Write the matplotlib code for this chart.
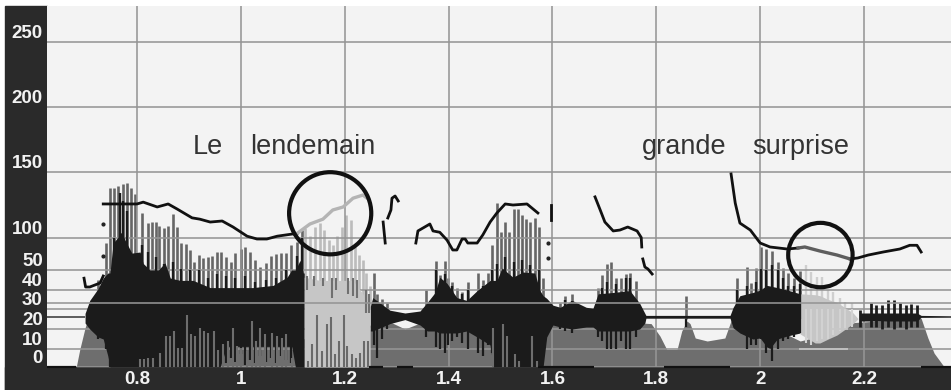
import numpy as np
import matplotlib
matplotlib.use("Agg")
import matplotlib.pyplot as plt
from matplotlib.patches import Rectangle

plt.rcParams["font.family"] = ["Liberation Sans", "DejaVu Sans"]

# axis labels and the non linear vertical scale of the software
x_ticks = [0.8, 1.0, 1.2, 1.4, 1.6, 1.8, 2.0, 2.2]
x_labels = ["0.8", "1", "1.2", "1.4", "1.6", "1.8", "2", "2.2"]
y_ticks = [0, 10, 20, 30, 40, 50, 100, 150, 200, 250]
scale_v = [0, 10, 20, 30, 40, 50, 100, 150, 200, 250, 278]
scale_pos = [0, 18, 38, 58, 77, 97, 129.5, 195, 260, 325, 361]
extra_lines = [33]

# intensity curve (grey area)
gray_t = [.683, .690, .700, .709, .744, .960, 1.100, 1.250, 1.290, 1.316, 1.345, 1.770, 1.790, 1.807, 1.820, 1.840,
          1.849, 1.859, 1.865, 1.875, 1.898, 1.932, 1.942, 1.952, 2.077, 2.115, 2.140, 2.179, 2.310, 2.323, 2.335, 2.352, 2.354]
gray_v = [0, 10, 20.6, 28, 28, 14, 14, 22, 23.2, 20, 23, 23, 22.7, 16.5, 9.8, 9.8,
          19, 24, 22.7, 15.5, 14, 15.5, 22.7, 30, 14, 16.5, 20.6, 23.2, 25.3, 15.5, 7.7, 1, 0]

# waveform envelope, dark parts
env1_t = [.700, .709, .725, .735, .744, .748, .754, .763, .767, .771, .777, .790, .806, .812, .825, .841, .854, .864,
          .883, .908, .941, .960, .973, 1.023, 1.062, 1.089, 1.098, 1.105, 1.114, 1.120, 1.122]
env1_hi = [27.8, 34.5, 40.7, 46, 48.5, 48.5, 91.5, 100, 103, 104, 96, 76, 77.7, 60, 50, 50, 61, 46,
           44.8, 44.8, 41.2, 41.2, 41.2, 41.2, 42.3, 46.4, 50, 50, 65, 48.5, 48.5]
env1_lo = [23, 20, 16, 15, 6, 0, 0, 0, 0, 0, 0, 0, 0, 0, 0, 0, 0, 0,
           0, 0, 0, 0, 11.3, 11.3, 11.3, 11.3, 11.3, 0, 0, 0, 0]
env2_t = [1.249, 1.254, 1.287, 1.316, 1.345, 1.359, 1.374, 1.383, 1.397, 1.416, 1.435, 1.455, 1.480, 1.486, 1.493, 1.503,
          1.524, 1.543, 1.566, 1.576, 1.582, 1.589, 1.601, 1.615, 1.638, 1.665, 1.678, 1.688, 1.717, 1.749, 1.768, 1.778,
          1.780, 1.855, 1.865, 1.942, 1.948, 1.961, 1.986, 2.000, 2.013, 2.019, 2.033, 2.052, 2.077]
env2_hi = [31, 36, 29.4, 28, 29, 33.5, 38.7, 46.4, 43.3, 36, 34.5, 39.7, 44.8, 44.8, 44.8, 53,
           46.4, 49, 48.5, 39.7, 37, 35.6, 32, 30.9, 34.5, 30.9, 30.4, 38, 38.7, 39.7, 33, 27.8,
           26.8, 26.8, 26.8, 26.8, 30.9, 37, 38.7, 40, 42.3, 42, 41.2, 40, 38]
env2_lo = [19, 19, 22.7, 24.7, 22, 19, 19, 18, 18, 18, 19, 16, 12, 0, 0, 0,
           0, 0, 0, 0, 0, 16, 22, 21, 20, 21, 21, 19, 19, 19, 20, 23,
           25.4, 25.4, 25.4, 25.4, 20.6, 18, 15, 15.5, 11, 10.3, 15, 16.5, 18]
env3_t = [2.192, 2.302, 2.310, 2.3675]
env3_hi = [28, 28, 26.8, 26.6]
env3_lo = [24, 24, 25.8, 25.9]

# highlighted syllables (light areas)
light1_t = [1.122, 1.152, 1.216, 1.235, 1.249]
light1_hi = [46.4, 44.8, 44.8, 38, 30.9]
light2_t = [2.077, 2.106, 2.115, 2.131, 2.148, 2.179, 2.188]
light2_hi = [38, 37.5, 37, 35, 33.5, 28, 25.3]
light2_lo = [17.5, 13, 13, 15, 17, 22.7, 25]

# glottal pulses of the waveform: top end and low end
pulse_t = [.725, .740, .748, .756, .763, .773, .781, .788, .796, .810, .821, .829, .837, .842, .852, .860, .869, .877,
           .885, .894, .902, .910, .919, .927, .937, .944, .954, .962, .971, .981, .989, 1.000, 1.008, 1.018, 1.027,
           1.037, 1.048, 1.058, 1.068, 1.077, 1.087, 1.097, 1.108, 1.118,
           1.256, 1.262, 1.272, 1.281,
           1.357, 1.376, 1.383, 1.393, 1.399, 1.407, 1.416, 1.426, 1.437, 1.457, 1.466, 1.476, 1.484, 1.493, 1.501,
           1.509, 1.516, 1.526, 1.534, 1.541, 1.549, 1.557, 1.566, 1.574, 1.582,
           1.615, 1.624, 1.638, 1.688, 1.695, 1.705, 1.713, 1.722, 1.732, 1.742, 1.749, 1.761, 1.857,
           1.955, 1.975, 1.982, 1.992, 2.002, 2.011, 2.023, 2.034, 2.044, 2.054, 2.065, 2.077]
pulse_top = [44.8, 91.5, 137.5, 138, 139, 141, 141.5, 138, 133, 119, 111, 111.5, 111.5, 108.5, 107, 109, 118, 107.7,
             91.5, 89.4, 80.8, 62, 73, 68, 70, 71, 77.7, 77.7, 70, 62, 76, 82, 86, 77.7, 65,
             54.6, 61, 71, 74, 76, 76, 88, 93, 105.7,
             48.5, 38, 35.5, 33,
             40, 64, 47.5, 64, 46, 44, 41, 39, 44, 48.5, 45, 48.5, 88, 126, 104,
             111.5, 104, 121.5, 121.5, 117, 114, 111.5, 114.6, 107.7, 46,
             33, 37, 38, 41, 47.5, 59, 62, 46, 46, 48, 48.5, 44.5, 37,
             46, 54.6, 43.3, 53, 85, 83, 78.5, 62, 53, 48.5, 46, 49.5]
pulse_low = [15, 10, 0, 0, 0, 0, 0, 0, 0, 0, 0, 0, 0, 0, 0, 0, 0, 0,
             0, 0, 0, 0, 0, 0, 0, 0, 0, 6, 2, 5, 3, 7, 1, 4, 2,
             6, 3, 5, 2, 6, 4, 2, 1, 0,
             12, 5, 15, 20,
             16, 11, 10, 8, 12, 14, 16, 13, 10, 8, 6, 12, 8, 0, 0,
             0, 0, 0, 0, 0, 0, 0, 0, 0, 14,
             20, 19, 18, 16, 14, 10, 10, 10, 14, 10, 10, 16, 21,
             20, 10, 12, 12, 15, 8, 3.6, 10, 14, 15, 16, 18]

# dark inner part of the stronger pulses, gives the ragged top of the black mass
core_t = [.756, .767, .773, .781, .810, .821, .837, .852, .869, .885, .902, .919, .937, .954, .971, .989, 1.008, 1.027,
          1.048, 1.068, 1.087, 1.108, 1.118,
          1.376, 1.393, 1.407, 1.426, 1.437, 1.466, 1.484, 1.493, 1.509, 1.526, 1.541, 1.557, 1.574,
          1.624, 1.638, 1.695, 1.705, 1.722, 1.742, 1.749,
          1.955, 1.975, 1.992, 2.002, 2.011, 2.023, 2.034, 2.044, 2.054, 2.065, 2.077]
core_top = [100, 134, 128, 120, 88, 78, 70, 60, 62, 52, 50, 50, 46, 48, 47, 46, 47, 44,
            45, 46, 50, 72, 100,
            50, 48, 42, 38, 40, 42, 50, 60, 70, 62, 66, 58, 50,
            35, 34, 41, 44, 43, 46, 46,
            40, 42, 44, 52, 50, 58, 50, 46, 42, 42, 43]

# grey stripes seen through the black part of the waveform
stripe_t = [.806, .813, .821, .831, .844, .856, .864, .871, .879, .887, .896, .904, .912, .921, .929, .937, .948, .956,
            .966, .975, .985, .993, 1.000, 1.012, 1.021, 1.029, 1.037, 1.046, 1.060, 1.070, 1.079, 1.087, 1.098,
            1.486, 1.505, 1.513, 1.528, 1.536, 1.561, 1.570]
stripe_top = [4.6, 4.6, 5, 5, 7.7, 16.5, 16.5, 19, 10.3, 10.3, 26.8, 17.5, 16.5, 20.6, 19, 18, 19, 9.5,
              12.4, 14, 20.6, 11.3, 10.3, 8.8, 24.2, 14, 20.6, 17.5, 18, 16.5, 15.5, 17.5, 5.2,
              20.6, 22.7, 16.5, 7.2, 3.6, 16.5, 3.6]

# pulses inside the light syllables
light1_pulse_t = [1.124, 1.133, 1.143, 1.152, 1.160, 1.170, 1.177, 1.185, 1.195, 1.202, 1.212, 1.220, 1.228, 1.235, 1.241, 1.249]
light1_pulse_top = [107, 101.5, 107.7, 111, 105.7, 96, 88, 101.5, 107.7, 117, 113.4, 85, 73, 65, 48.5, 42]
bar_t = [1.129, 1.137, 1.147, 1.156, 1.166, 1.174, 1.181, 1.189, 1.199, 1.204, 1.214, 1.222, 1.229, 1.237, 1.245]
bar_top = [3.6, 12.4, 26.8, 8.8, 22.7, 25.8, 7.2, 14, 26.8, 11.3, 7.2, 5.2, 7.7, 14, 14]
tick_t = [1.127, 1.141, 1.158, 1.175, 1.183, 1.206, 1.216, 1.224, 1.241, 1.247]
tick_hi = [47, 47, 46, 46, 46, 46, 46, 45, 40, 38]
tick_lo = [40, 42, 42, 36, 40, 38, 37, 36, 28, 28]
light2_pulse_t = [2.088, 2.098, 2.109, 2.119, 2.131, 2.140, 2.154, 2.163, 2.177]
light2_pulse_top = [57.5, 49, 46.4, 46.4, 40, 39, 36, 33.5, 33]
light2_pulse_low = [13, 12, 14, 15, 15, 17, 19, 20, 21]
teeth_t = [2.192, 2.213, 2.223, 2.234, 2.246, 2.258, 2.269, 2.281, 2.291, 2.302]
teeth_top = [29.4, 33, 32, 32, 34.5, 34.5, 33, 32, 32.5, 32]
teeth_low = [21, 21, 21, 20, 21, 20, 21, 20, 21, 21]

# pitch track, one list per voiced stretch
f0_a_t = [.698, .701, .709, .729, .735]
f0_a = [45.9, 41.5, 41.5, 43.5, 47]
f0_b_t = [.735, .800, .812, .839, .860, .877, .906, .921, .941, .964, .985, 1.012, 1.031, 1.050, 1.070, 1.100, 1.108]
f0_b = [125.6, 125.6, 127, 123.3, 125.6, 121.8, 115, 114, 111.8, 112.6, 108, 101, 97.7, 97.7, 101, 102.7, 103]
f0_c_t = [1.108, 1.133, 1.158, 1.177, 1.197, 1.216, 1.235, 1.243]
f0_c = [103, 110.3, 114, 121, 123.3, 130, 132.4, 130]
f0_d_t = [1.274, 1.278]
f0_d = [111.8, 91.5]
f0_e_t = [1.283, 1.289, 1.291, 1.297, 1.303]
f0_e = [114.9, 121, 130, 131.7, 127.9]
f0_f_t = [1.337, 1.341, 1.364, 1.370, 1.383, 1.397, 1.408, 1.416, 1.426, 1.432, 1.437, 1.455, 1.466, 1.480, 1.493, 1.509, 1.524, 1.551, 1.572]
f0_f = [91.5, 105, 110.3, 105, 104, 96, 80.8, 80.8, 97.7, 97.7, 91.5, 91.5, 102, 111.8, 118.7, 125.6, 124.8, 125.6, 118.7]
f0_g_t = [1.597, 1.597]
f0_g = [124.8, 113.4]
f0_h_t = [1.682, 1.692, 1.701, 1.717, 1.730, 1.745, 1.763, 1.771, 1.772]
f0_h = [131, 121, 111.8, 105, 105.7, 108, 105, 100, 85.4]
f0_i_t = [1.774, 1.778, 1.784, 1.792]
f0_i = [67, 54.6, 51.5, 48]
f0_j_t = [1.944, 1.952, 1.961, 1.981, 2.000, 2.019, 2.052, 2.073]
f0_j = [148.5, 126.3, 111, 105.7, 91.5, 85.4, 82.3, 83.8]
f0_k_t = [2.073, 2.086, 2.115, 2.148, 2.173]
f0_k = [83.8, 85.4, 79.2, 73, 67]
f0_l_t = [2.173, 2.188, 2.208, 2.237, 2.269, 2.288, 2.302, 2.310]
f0_l = [67, 68.5, 73, 77.7, 82.3, 88, 88, 77.7]
dots_t = [.735, .735, 1.591, 1.591]
dots_v = [110, 72, 91.5, 69]

# silence parts drawn on the base line
base_start = [.6267, 1.247, 1.300, 1.572, 1.815, 2.310]
base_end = [.683, 1.274, 1.332, 1.680, 1.942, 2.3675]

# circled syllables
circle_t = [1.172, 2.116]
circle_v = [118.5, 73]
circle_size = [3500, 2150]

words = ["Le", "lendemain", "grande", "surprise"]
words_t = [.908, 1.018, 1.773, 1.985]
words_v = [164, 164, 164, 164]


def forward(v):
    return np.interp(v, scale_v, scale_pos)


def inverse(p):
    return np.interp(p, scale_pos, scale_v)


BLACK = "#1b1b1b"
GRAY = "#6e6e6e"
LIGHT = "#c6c6c6"
GRID = "#959595"
PANEL = "#2a2a2a"

fig = plt.figure(figsize=(9.51, 3.9), dpi=100, facecolor="white")
fig.add_artist(Rectangle((5 / 951, 0), 42 / 951, 384 / 390, transform=fig.transFigure, color=PANEL, zorder=-1))
fig.add_artist(Rectangle((5 / 951, 0), 946 / 951, 23 / 390, transform=fig.transFigure, color=PANEL, zorder=-1))

ax = fig.add_axes([47 / 951, 23 / 390, 904 / 951, 361 / 390], facecolor="#f3f3f3")
ax.set_yscale("function", functions=(forward, inverse))
ax.set_xlim(.6267, 2.3675)
ax.set_ylim(0, 278)
for s in ax.spines.values():
    s.set_visible(False)

ax.fill_between(gray_t, 0, gray_v, color=GRAY, lw=0, zorder=1)

# pulses
ax.vlines(pulse_t, 25, pulse_top, color="#666666", lw=1.9, zorder=2)
ax.vlines(light1_pulse_t, 30, light1_pulse_top, color="#bcbcbc", lw=1.9, zorder=2)
ax.vlines(light2_pulse_t, 30, light2_pulse_top, color="#cfcfcf", lw=1.7, zorder=2)

# waveform
ax.fill_between(env1_t, env1_lo, env1_hi, color=BLACK, lw=0, zorder=3)
ax.fill_between(env2_t, env2_lo, env2_hi, color=BLACK, lw=0, zorder=3)
ax.fill_between(env3_t, env3_lo, env3_hi, color=BLACK, lw=0, zorder=3)
ax.fill_between(light1_t, 0, light1_hi, color=LIGHT, lw=0, zorder=3)
ax.fill_between(light2_t, light2_lo, light2_hi, color=LIGHT, lw=0, zorder=3)
ax.vlines(pulse_t, pulse_low, 25, color=BLACK, lw=1.6, zorder=3)
ax.vlines(core_t, 25, core_top, color=BLACK, lw=1.7, zorder=3)
ax.vlines(stripe_t, 0, stripe_top, color=GRAY, lw=1.5, zorder=4)
ax.vlines(bar_t, 0, bar_top, color="#6a6a6a", lw=1.5, zorder=4)
ax.vlines(tick_t, tick_lo, tick_hi, color="#707070", lw=1.5, zorder=4)
ax.vlines(light2_pulse_t, light2_pulse_low, 30, color="#d2d2d2", lw=1.5, zorder=4)
ax.vlines(teeth_t, teeth_low, teeth_top, color=BLACK, lw=2.0, zorder=4)
ax.hlines(25.9, .6267, .700, color="#333333", lw=1.1, zorder=4)
ax.hlines([10, 20], [2.075, 2.135], [2.17, 2.17], color="#c8c8c8", lw=1.2, zorder=6)
ax.hlines([0] * len(base_start), base_start, base_end, color="#111111", lw=1.6, zorder=6, clip_on=False)

# grid
ax.set_xticks(x_ticks)
ax.set_xticklabels(x_labels)
ax.set_yticks(y_ticks)
ax.set_yticklabels([str(v) for v in y_ticks], va="bottom")
ax.grid(True, color=GRID, lw=1.15, zorder=5)
ax.set_axisbelow(False)
ax.hlines(extra_lines, .6267, 2.3675, color=GRID, lw=1.15, zorder=5)
ax.tick_params(length=0, colors="#f2f2f2", labelsize=13.5, pad=3)
for lab in ax.get_xticklabels() + ax.get_yticklabels():
    lab.set_fontweight("bold")

# pitch
for t, v in [(f0_a_t, f0_a), (f0_b_t, f0_b), (f0_d_t, f0_d), (f0_e_t, f0_e), (f0_f_t, f0_f),
             (f0_g_t, f0_g), (f0_h_t, f0_h), (f0_i_t, f0_i), (f0_j_t, f0_j), (f0_l_t, f0_l)]:
    ax.plot(t, v, color="#111111", lw=2.0, zorder=7)
ax.plot(f0_c_t, f0_c, color="#b4b4b4", lw=2.4, zorder=7)
ax.plot(f0_k_t, f0_k, color="#5e5e5e", lw=2.4, zorder=7)
ax.plot(dots_t, dots_v, ls="none", marker="o", ms=2, color="#222222", zorder=7)

ax.scatter(circle_t, circle_v, s=circle_size, facecolors="none", edgecolors="#111111", linewidths=3, zorder=8)

for w, t, v in zip(words, words_t, words_v):
    ax.text(t, v, w, fontsize=19.5, color="#333333", ha="left", va="baseline", zorder=9)

fig.savefig("out.png", dpi=100)
